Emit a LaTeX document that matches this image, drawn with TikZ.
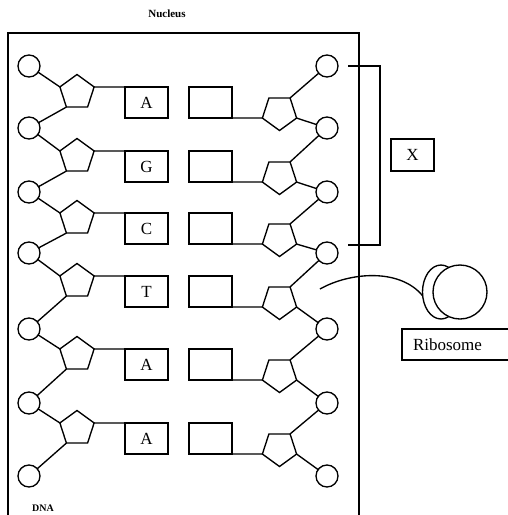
\documentclass[tikz,border=0pt]{standalone}
\usepackage{fontspec}
\setmainfont{Liberation Serif}
\usetikzlibrary{positioning,shapes.geometric}

\begin{document}
\begin{tikzpicture}[x=1pt,y=-1pt,line width=1.35pt,every node/.style={outer sep=0pt},
  phos/.style={circle,draw,minimum size=22pt,inner sep=0pt},
  sugar/.style={regular polygon,regular polygon sides=5,draw,minimum size=36pt,inner sep=0pt},
  base/.style={rectangle,draw,minimum width=43pt,minimum height=31pt,inner sep=0pt,anchor=north west,font=\fontsize{17}{20}\selectfont}]
  \useasboundingbox (0,0) rectangle (508,515);
  % nucleus wall
  \draw (8,515) -- (8,33) -- (359,33) -- (359,515);
  \node[font=\bfseries\fontsize{11}{13}\selectfont] (nucleus) at (167,14) {Nucleus};
  \node[font=\bfseries\fontsize{10}{12}\selectfont] (dna) at (43,508) {DNA};
  % phosphates, both strands
  \foreach \i/\y in {0/66,1/128,2/192,3/253,4/329,5/403,6/476}{
    \node[phos] (pl\i) at (29,\y) {};
    \node[phos] (pr\i) at (327,\y) {};
  }
  % sugars and bases
  \foreach \j/\i/\s/\b in {0/1/87/A,1/2/151/G,2/3/213/C,3/4/276/T,4/5/349/A,5/6/423/A}{
    \node[sugar] (sl\i) at (77,\s+5.5) {};
    \node[base] (bl\i) at (125,\s) {\b};
    \node[base] (br\i) at (189,\s) {};
    \node[sugar,shape border rotate=180] (sr\i) at (279.5,\s+25.5) {};
    \draw (pl\j) -- (sl\i.corner 2);
    \draw (sl\i.corner 3) -- (pl\i);
    \draw (sl\i.corner 5) -- (bl\i.north west);
    \draw (br\i.south east) -- (sr\i.corner 5);
    \draw (pr\j) -- (sr\i.corner 3);
    \draw (sr\i.corner 2) -- (pr\i);
  }
  % bracket and X
  \coordinate (brT) at (348,66);
  \coordinate (brB) at (348,245);
  \draw (brT) -- ++(32,0) |- (brB);
  \node[draw,minimum width=43pt,minimum height=32pt,inner sep=0pt,font=\fontsize{17}{20}\selectfont] (xbox) at (412.5,155) {X};
  % ribosome
  \node[ellipse,draw,minimum width=37pt,minimum height=54pt,inner sep=0pt] (ssu) at (441,292) {};
  \node[circle,draw,fill=white,minimum size=54pt,inner sep=0pt] (lsu) at (460,292) {};
  \coordinate (mrna) at (320,289);
  \draw (mrna) .. controls (350,272) and (400,268) .. (ssu.192);
  \node[draw,anchor=north west,minimum height=31pt,text width=88pt,inner xsep=11pt,inner ysep=0pt,align=left,font=\fontsize{17}{20}\selectfont] (ribo) at (402,329) {Ribosome};
\end{tikzpicture}
\end{document}
